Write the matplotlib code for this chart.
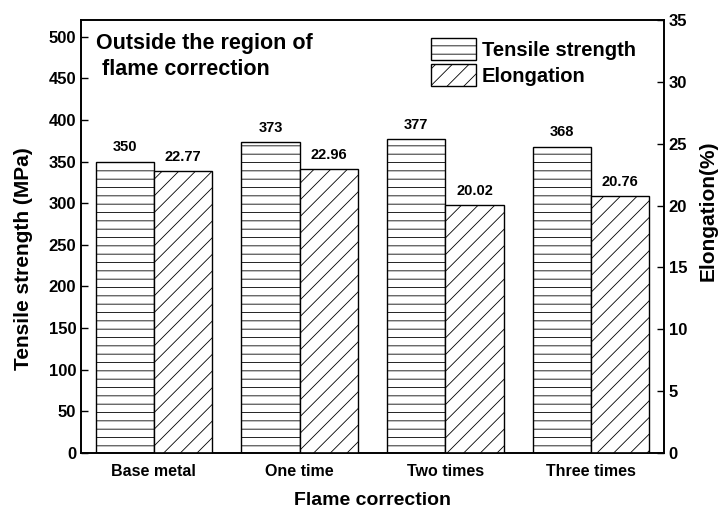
import numpy as np
import matplotlib
matplotlib.use("Agg")
import matplotlib.pyplot as plt

plt.rcParams['font.family'] = ['Liberation Sans', 'DejaVu Sans']
plt.rcParams['font.weight'] = 'bold'
plt.rcParams['axes.labelweight'] = 'bold'
plt.rcParams['hatch.linewidth'] = 0.6

categories = ['Base metal', 'One time', 'Two times', 'Three times']
tensile = [350, 373, 377, 368]
elongation = [22.77, 22.96, 20.02, 20.76]

x = np.arange(len(categories))
w = 0.4

fig = plt.figure(figsize=(7.21, 5.11), dpi=100)
ax = fig.add_axes([81 / 721, 1 - 453 / 511, (664 - 81) / 721, (453 - 20) / 511])
ax2 = ax.twinx()

b1 = ax.bar(x - w / 2, tensile, w, facecolor='white', edgecolor='black',
            hatch='--', linewidth=1.0, label='Tensile strength')
b2 = ax2.bar(x + w / 2, elongation, w, facecolor='white', edgecolor='black',
             hatch='//', linewidth=1.0, label='Elongation')

for xi, v in zip(x, tensile):
    ax.text(xi - w / 2, v + 9, f'{v}', ha='center', va='bottom', fontsize=10.5)
for xi, v in zip(x, elongation):
    ax2.text(xi + w / 2, v + 0.6, f'{v:.2f}', ha='center', va='bottom', fontsize=10.5)

ax.set_xlim(-0.5, 3.5)
ax.set_ylim(0, 520)
ax2.set_ylim(0, 35)
ax.set_yticks(np.arange(0, 501, 50))
ax2.set_yticks(np.arange(0, 36, 5))
ax.set_xticks(x)
ax.set_xticklabels(categories, fontsize=11.5)
ax.tick_params(axis='x', length=0, pad=8)
ax.tick_params(axis='y', direction='in', length=5, labelsize=12, width=1)
ax2.tick_params(axis='y', direction='in', length=5, labelsize=12, width=1)
for a in (ax, ax2):
    for s in a.spines.values():
        s.set_linewidth(1.2)

ax.set_ylabel('Tensile strength (MPa)', fontsize=15, va='center')
ax2.set_ylabel('Elongation(%)', fontsize=15, rotation=90, va='center')
ax.yaxis.set_label_coords(-0.098, 0.45)
ax2.yaxis.set_label_coords(1.076, 0.56)
ax.set_xlabel('Flame correction', fontsize=14, labelpad=9)

ax.text(0.025, 0.97, 'Outside the region of\n flame correction', transform=ax.transAxes,
        ha='left', va='top', fontsize=15.5, linespacing=1.3)

ax.legend([b1, b2], ['Tensile strength', 'Elongation'], loc='upper left',
          bbox_to_anchor=(0.57, 1.0), frameon=False, fontsize=14.5,
          handlelength=2.2, handleheight=1.3, handletextpad=0.3, labelspacing=0.2)

fig.savefig('out.png', dpi=100)
